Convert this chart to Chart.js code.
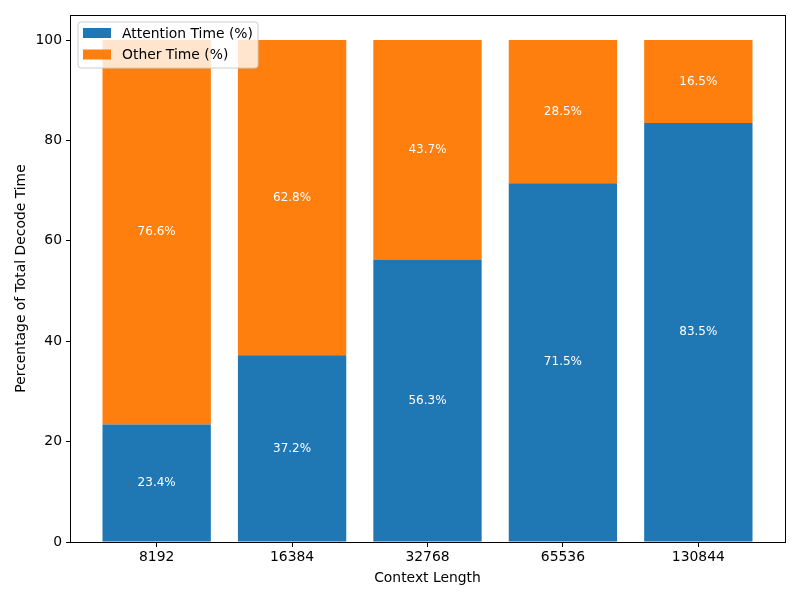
<!DOCTYPE html>
<html>
<head>
<meta charset="utf-8">
<script src="https://cdn.jsdelivr.net/npm/chart.js@4.4.0/dist/chart.umd.min.js"></script>
<style>
html,body{margin:0;padding:0;background:#fff;}
#wrap{width:800px;height:600px;}
</style>
</head>
<body>
<div id="wrap"><canvas id="c" width="800" height="600"></canvas></div>
<script>
const categories = ['8192', '16384', '32768', '65536', '130844'];
const attentionPct = [23.4, 37.2, 56.3, 71.5, 83.5];
const otherPct = [76.6, 62.8, 43.7, 28.5, 16.5];
const yTicks = [0, 20, 40, 60, 80, 100];
const seriesNames = ['Attention Time (%)', 'Other Time (%)'];

const FONT = 'DejaVu Sans';

const frameAndLabels = {
  id: 'frameAndLabels',
  afterDatasetsDraw(chart) {
    const ctx = chart.ctx;
    ctx.save();
    ctx.fillStyle = '#ffffff';
    ctx.font = '12px "' + FONT + '"';
    ctx.textAlign = 'center';
    ctx.textBaseline = 'middle';
    chart.data.datasets.forEach((ds, di) => {
      const meta = chart.getDatasetMeta(di);
      meta.data.forEach((bar, i) => {
        const v = ds.data[i].y;
        const cy = (bar.y + bar.base) / 2;
        ctx.fillText(v.toFixed(1) + '%', bar.x, cy);
      });
    });
    ctx.restore();
  },
  afterDraw(chart) {
    const ctx = chart.ctx;
    const a = chart.chartArea;
    ctx.save();
    ctx.strokeStyle = '#000';
    ctx.lineWidth = 1;
    ctx.strokeRect(Math.round(a.left) + 0.5, Math.round(a.top) + 0.5, Math.round(a.right - a.left), Math.round(a.bottom - a.top));
    // legend
    const lx = a.left + 8, ly = a.top + 7, lw = 180, lh = 46, r = 3;
    ctx.beginPath();
    ctx.moveTo(lx + r, ly);
    ctx.lineTo(lx + lw - r, ly);
    ctx.arcTo(lx + lw, ly, lx + lw, ly + r, r);
    ctx.lineTo(lx + lw, ly + lh - r);
    ctx.arcTo(lx + lw, ly + lh, lx + lw - r, ly + lh, r);
    ctx.lineTo(lx + r, ly + lh);
    ctx.arcTo(lx, ly + lh, lx, ly + lh - r, r);
    ctx.lineTo(lx, ly + r);
    ctx.arcTo(lx, ly, lx + r, ly, r);
    ctx.closePath();
    ctx.fillStyle = 'rgba(255,255,255,0.8)';
    ctx.fill();
    ctx.strokeStyle = '#cccccc';
    ctx.lineWidth = 1;
    ctx.stroke();
    ctx.font = '13.9px "' + FONT + '"';
    ctx.textAlign = 'left';
    ctx.textBaseline = 'middle';
    chart.data.datasets.forEach((ds, di) => {
      const cy = ly + 11 + di * 21.5;
      ctx.fillStyle = ds.backgroundColor;
      ctx.fillRect(lx + 5, cy - 5, 28, 10);
      ctx.fillStyle = '#000';
      ctx.fillText(ds.label, lx + 44, cy + 1);
    });
    ctx.restore();
  }
};

new Chart(document.getElementById('c'), {
  type: 'bar',
  data: {
    datasets: [
      { label: seriesNames[0], data: attentionPct.map((v, i) => ({x: i, y: v})), backgroundColor: '#1f77b4', borderWidth: 0, barPercentage: 0.8, categoryPercentage: 1.0 },
      { label: seriesNames[1], data: otherPct.map((v, i) => ({x: i, y: v})), backgroundColor: '#ff7f0e', borderWidth: 0, barPercentage: 0.8, categoryPercentage: 1.0 }
    ]
  },
  options: {
    responsive: false,
    animation: false,
    devicePixelRatio: 1,
    layout: { padding: { top: 15, right: 15, left: 0, bottom: 0 } },
    plugins: { legend: { display: false }, tooltip: { enabled: false } },
    scales: {
      x: {
        type: 'linear',
        stacked: true,
        offset: false,
        min: -0.64,
        max: 4.64,
        afterBuildTicks(scale) { scale.ticks = categories.map((c, i) => ({ value: i })); },
        afterFit(scale) { scale.height = 58; },
        ticks: {
          callback: (v) => categories[v],
          color: '#000',
          font: { family: FONT, size: 13.9 },
          padding: 2,
          maxRotation: 0,
          autoSkip: false
        },
        grid: { offset: false, drawOnChartArea: false, color: '#000', tickColor: '#000', tickLength: 5 },
        border: { color: '#000' },
        title: { display: true, text: 'Context Length', color: '#000', font: { family: FONT, size: 13.9 }, padding: { top: 4, bottom: 13 } }
      },
      y: {
        stacked: true,
        min: 0,
        max: 105,
        afterBuildTicks(scale) { scale.ticks = yTicks.map(v => ({ value: v })); },
        afterFit(scale) { scale.width = 70; },
        ticks: {
          color: '#000',
          font: { family: FONT, size: 13.9 },
          padding: 4
        },
        grid: { drawOnChartArea: false, color: '#000', tickColor: '#000', tickLength: 4 },
        border: { color: '#000' },
        title: { display: true, text: 'Percentage of Total Decode Time', color: '#000', font: { family: FONT, size: 13.9 }, padding: { top: 13, bottom: 0 } }
      }
    }
  },
  plugins: [frameAndLabels]
});
</script>
</body>
</html>
